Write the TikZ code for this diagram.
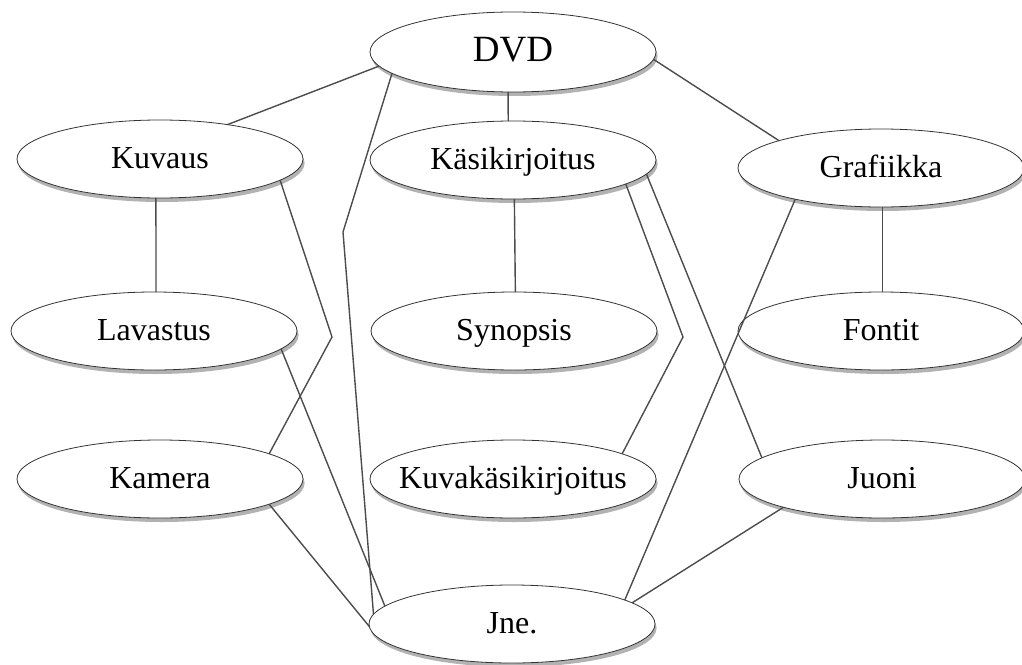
\documentclass[tikz,border=0pt]{standalone}
\usepackage{fontspec}
\setmainfont{Liberation Serif}
\usepackage{tikz}
\usetikzlibrary{shapes, shadows, positioning}

\begin{document}
\begin{tikzpicture}
  [
    x=0.5pt, y=-0.5pt,
    Oval/.style={ellipse, draw=black!80, fill=white, thin, minimum width=143pt, minimum height=39pt, inner xsep=-12pt, inner ysep=0pt, outer sep=0pt, text height=1.1em, text depth=0.2em, font=\fontsize{16}{19}\selectfont, drop shadow={shadow xshift=0.8pt, shadow yshift=-2pt, fill=black!55, opacity=0.55}},
    Top/.style={Oval, minimum height=40pt, font=\fontsize{18.5}{22}\selectfont},
    Link/.style={draw=black!70, line width=0.7pt}
  ]
  \useasboundingbox (0, 0) rectangle (1022, 664);

  % Nodes
  \node[Top] (dvd) at(513, 52) {DVD};
  \node[Oval] (kuvaus) at(160, 159) {Kuvaus};
  \node[Oval] (kasik) at(513, 160) {Käsikirjoitus};
  \node[Oval] (grafiikka) at(881, 168) {Grafiikka};
  \node[Oval] (lavastus) at(154, 331) {Lavastus};
  \node[Oval] (synopsis) at(514, 331) {Synopsis};
  \node[Oval] (fontit) at(881, 331) {Fontit};
  \node[Oval] (kamera) at(160, 479) {Kamera};
  \node[Oval] (kuvakasik) at(513, 479) {Kuvakäsikirjoitus};
  \node[Oval] (juoni) at(882, 479) {Juoni};
  \node[Oval] (jne) at(512, 624) {Jne.};

  % Bends
  \coordinate (b1) at(343, 232);
  \coordinate (b2) at(332, 337);
  \coordinate (b3) at(683, 337);

  % Lines
  \path [Link] (dvd.186) -- (kuvaus.27);
  \path [Link] (dvd.263) -- (kasik.97);
  \path [Link] (dvd.357) -- (grafiikka.165);
  \path [Link] (dvd.190) -- (b1) -- (jne.176);
  \path [Link] (kuvaus.264) -- (lavastus.87);
  \path [Link] (kuvaus.350) -- (b2) -- (kamera.13);
  \path [Link] (kasik.272) -- (synopsis.88);
  \path [Link] (kasik.348) -- (b3) -- (kuvakasik.13);
  \path [Link] (kasik.354) -- (juoni.170);
  \path [Link] (grafiikka.272) -- (fontit.88);
  \path [Link] (grafiikka.200) -- (jne.12);
  \path [Link] (juoni.196) -- (jne.10);
  \path [Link] (lavastus.352) -- (jne.172);
  \path [Link] (kamera.347) -- (jne.181);

\end{tikzpicture}
\end{document}
